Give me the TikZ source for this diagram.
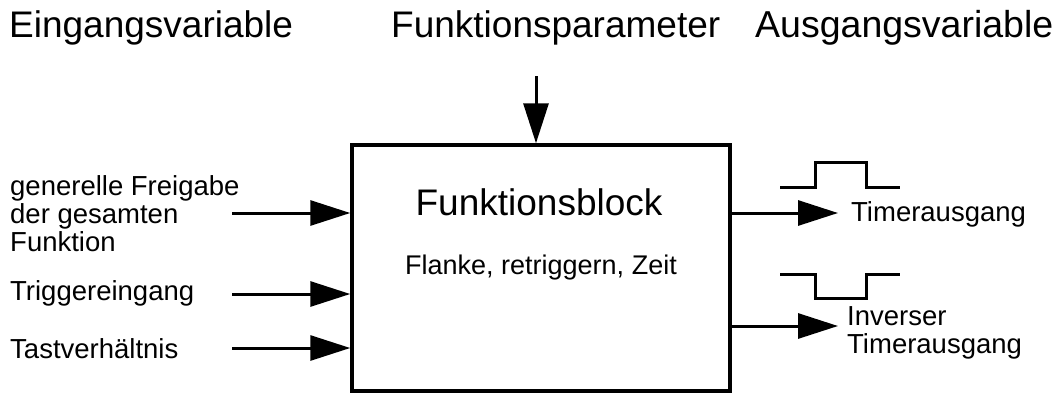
\documentclass[tikz,border=0pt]{standalone}
\usepackage{fontspec}
\setmainfont{Liberation Sans}
\usepackage{tikz}
\usetikzlibrary{arrows.meta,positioning}
\tikzset{head/.style={inner sep=0pt,anchor=base west,font=\fontsize{37}{40}\selectfont},
  lbl/.style={inner sep=0pt,anchor=west,align=left,font=\fontsize{27.5}{28}\selectfont},
  blk/.style={draw,line width=3.5pt,minimum width=378pt,minimum height=246pt,inner sep=0pt},
  pfeil/.style={line width=3pt,-{Triangle[length=40pt,width=25pt]}},
  puls/.style={line width=3pt}}

\begin{document}
\begin{tikzpicture}[x=1pt,y=-1pt]
    \useasboundingbox (0,0) rectangle (1060,392);
    \node[head] (ein) at (9,37) {Eingangsvariable};
    \node[head] (par) at (391,37) {Funktionsparameter};
    \node[head,font=\fontsize{37.5}{41}\selectfont] (aus) at (755,37) {Ausgangsvariable};

    \node[blk] (fb) at (541,268) {};
    \node[inner sep=0pt,font=\fontsize{37}{40}\selectfont] (fbname) at (539,202) {Funktionsblock};
    \node[inner sep=0pt,font=\fontsize{27}{30}\selectfont] (fbpar) at (541,268) {Flanke, retriggern, Zeit};

    \node[lbl] (frei) at (10,214) {generelle Freigabe\\der gesamten\\Funktion};
    \node[lbl] (trig) at (10,293) {Triggereingang};
    \node[lbl] (tast) at (10,349) {Tastverhältnis};
    \node[lbl] (tout) at (851,214) {Timerausgang};
    \node[lbl] (tinv) at (847,333) {Inverser\\Timerausgang};

    \coordinate (cpar) at (536,76);
    \coordinate (cfrei) at (232,213);
    \coordinate (ctrig) at (232,294);
    \coordinate (ctast) at (232,348);
    \coordinate (cout) at (838,213);
    \coordinate (cinv) at (838,326);

    \draw [pfeil] (cpar) to (fb.north -| cpar);
    \draw [pfeil] (cfrei) to (fb.west |- cfrei);
    \draw [pfeil] (ctrig) to (fb.west |- ctrig);
    \draw [pfeil] (ctast) to (fb.west |- ctast);
    \draw [pfeil] (fb.east |- cout) to (cout);
    \draw [pfeil] (fb.east |- cinv) to (cinv);

    \draw [puls] (780,187) -- (815,187) -- (815,162) -- (866,162) -- (866,187) -- (900,187);
    \draw [puls] (780,274) -- (815,274) -- (815,298) -- (866,298) -- (866,274) -- (900,274);
\end{tikzpicture}
\end{document}
